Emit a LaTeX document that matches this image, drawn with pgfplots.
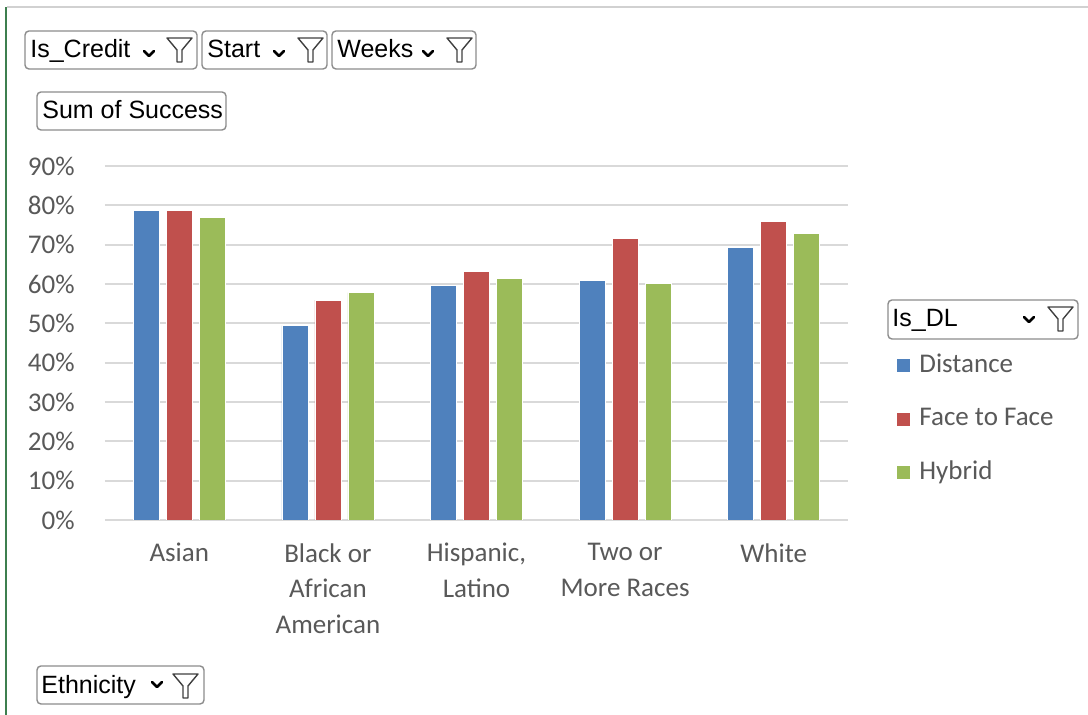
\documentclass[border=0pt]{standalone}
\usepackage{fontspec}
\setmainfont{Carlito}
\newfontfamily\btnfont{Liberation Sans}
\usepackage{pgfplots}
\pgfplotsset{compat=1.18}
\definecolor{cBlue}{HTML}{4F81BD}
\definecolor{cRed}{HTML}{C0504D}
\definecolor{cGreen}{HTML}{9BBB59}
\definecolor{cGrid}{HTML}{D9D9D9}
\definecolor{cText}{HTML}{595959}
\definecolor{cBtn}{HTML}{8C8C8C}
\definecolor{cXlGreen}{HTML}{3E7F4F}
\newcommand{\btn}[7]{%
  \draw[cBtn, line width=0.7pt, rounded corners=2pt] (#1,#2) rectangle (#3,#4);
  \node[anchor=base west, inner sep=0pt, font=\btnfont\fontsize{12.5}{14}\selectfont] at (#5,#6) {#7};
}
\newcommand{\chev}[2]{%
  \draw[black, line width=1.3pt, line cap=round, line join=round] (#1,#2) -- ++(5,5) -- ++(5,-5);
}
\newcommand{\funnel}[2]{%
  \draw[black!75, line width=0.7pt, line join=round] (#1,#2) -- ++(25,0) -- ++(-10,12) -- ++(0,12) -- ++(-5,0) -- ++(0,-12) -- cycle;
}
\begin{document}
\begin{tikzpicture}
\path[use as bounding box, fill=white] (0,0) rectangle (544pt,357.5pt);
\begin{axis}[
  at={(52.5pt,97.5pt)}, anchor=south west,
  scale only axis, width=371.5pt, height=177pt,
  ybar=3.5pt, bar width=13pt,
  every axis plot/.append style={legend image code/.code={\fill[#1,draw=none] (0pt,-3.25pt) rectangle (6.5pt,3.25pt);}},
  xmin=-0.5, xmax=4.5, ymin=0, ymax=90,
  xtick={0,...,4},
  xticklabels={Asian, Black or\\African\\American, {Hispanic,\\Latino}, Two or\\More Races, White},
  ytick={0,10,...,90},
  yticklabel={\pgfmathprintnumber{\tick}\%},
  /pgf/number format/assume math mode=true,
  ymajorgrids, grid style={cGrid, line width=1pt},
  axis line style={draw=none},
  major tick length=0pt,
  tick label style={font=\fontsize{13.5}{17.75}\selectfont, text=cText},
  yticklabel style={anchor=east, inner sep=0pt, xshift=-15pt},
  xticklabel style={anchor=north, inner sep=0pt, yshift=-11.5pt, align=center},
  legend style={at={(1.0579,0.4839)}, anchor=north west, draw=none, fill=none,
    font=\fontsize{13.5}{16}\selectfont, text=cText, row sep=14.25pt, column sep=4.5pt,
    nodes={inner sep=0pt, text height=9.5pt, text depth=3pt}},
  legend cell align=left,
]
\addplot[fill=cBlue, draw=white, line width=0.4pt] coordinates {(0,78.7) (1,49.4) (2,59.6) (3,60.8) (4,69.2)};
\addplot[fill=cRed, draw=white, line width=0.4pt] coordinates {(0,78.7) (1,55.9) (2,63.1) (3,71.6) (4,75.8)};
\addplot[fill=cGreen, draw=white, line width=0.4pt] coordinates {(0,77.0) (1,57.8) (2,61.4) (3,60.2) (4,72.8)};
\legend{Distance, Face to Face, Hybrid}
\end{axis}
\begin{scope}[yshift=357.5pt, x=0.5pt, y=-0.5pt]
  \fill[cXlGreen] (5,7) rectangle (7,715);
  \fill[black!18] (7,6) rectangle (1088,8);
  \btn{25}{31}{197}{69}{30}{58}{Is\_Credit}\chev{144}{51}\funnel{167}{38}
  \btn{202}{31}{327}{69}{207}{58}{Start}\chev{274}{51}\funnel{298}{38}
  \btn{332}{31}{476}{69}{337}{58}{Weeks}\chev{423}{51}\funnel{447}{38}
  \btn{37}{92}{226}{130}{42}{119}{Sum of Success}
  \btn{37}{666}{204}{704}{41}{694}{Ethnicity}\chev{152}{682}\funnel{173}{674}
  \btn{888}{300}{1078}{339}{892}{327}{Is\_DL}\chev{1024}{317}\funnel{1048}{307}
\end{scope}
\end{tikzpicture}
\end{document}
